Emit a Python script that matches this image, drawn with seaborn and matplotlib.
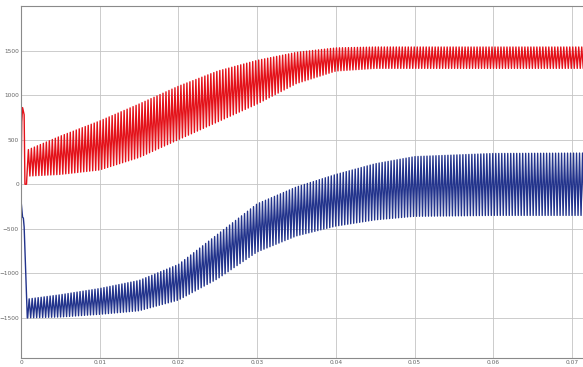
import numpy as np
import pandas as pd
import seaborn as sns
import matplotlib
matplotlib.use("Agg")
import matplotlib.pyplot as plt

# envelope of the two signals (time in s)
env_t = [0.0007, 0.005, 0.01, 0.015, 0.02, 0.025, 0.03, 0.035, 0.04, 0.045, 0.05, 0.06, 0.072]
red_hi = [380, 540, 710, 900, 1100, 1270, 1390, 1480, 1530, 1540, 1540, 1540, 1540]
red_lo = [90, 110, 160, 300, 500, 700, 900, 1130, 1270, 1300, 1300, 1300, 1300]
blue_hi = [-1290, -1240, -1170, -1080, -900, -560, -220, -30, 110, 230, 310, 345, 350]
blue_lo = [-1500, -1490, -1460, -1420, -1300, -1060, -760, -580, -470, -400, -360, -350, -350]

# start-up transient
red_t0 = [0.0, 0.0001, 0.0002, 0.0004, 0.0005, 0.0007]
red_v0 = [0, 700, 860, 780, 0, 0]
blue_t0 = [0.0, 0.0002, 0.0003, 0.0004, 0.0008]
blue_v0 = [-180, -370, -380, -480, -1500]

period = 0.00038

xticks = [0, 0.01, 0.02, 0.03, 0.04, 0.05, 0.06, 0.07]
xlabels = ["0", "0.01", "0.02", "0.03", "0.04", "0.05", "0.06", "0.07"]
yticks = [-1500, -1000, -500, 0, 500, 1000, 1500]


def build(t0, v0, hi, lo, start):
    # zig-zag between the upper and lower envelope every half period
    tt = np.arange(start, 0.0716, period / 2)
    up = np.interp(tt, env_t, hi)
    dn = np.interp(tt, env_t, lo)
    vv = np.where(np.arange(len(tt)) % 2 == 0, dn, up)
    return np.concatenate([t0, tt]), np.concatenate([v0, vv])


rt, rv = build(red_t0, red_v0, red_hi, red_lo, 0.00075)
bt, bv = build(blue_t0, blue_v0, blue_hi, blue_lo, 0.00085)
df_red = pd.DataFrame({"t": rt, "v": rv})
df_blue = pd.DataFrame({"t": bt, "v": bv})

sns.set_style("white")
fig = plt.figure(figsize=(5.83, 3.67), dpi=100)
ax = fig.add_axes([21 / 583, 9 / 367, 1 - 21 / 583, 352 / 367])

sns.lineplot(data=df_red, x="t", y="v", color="#e41119", lw=1.0, sort=False, estimator=None, ax=ax)
sns.lineplot(data=df_blue, x="t", y="v", color="#22338c", lw=1.0, sort=False, estimator=None, ax=ax)

ax.set_xlim(0, 0.0714)
ax.set_ylim(-1950, 2000)
ax.set_xticks(xticks)
ax.set_xticklabels(xlabels)
ax.set_yticks(yticks)
ax.set_xlabel("")
ax.set_ylabel("")
ax.grid(True, color="#c4c4c4", lw=0.6)
ax.set_axisbelow(True)
for s in ["left", "top", "bottom"]:
    ax.spines[s].set_color("#8a8a8a")
    ax.spines[s].set_linewidth(0.8)
ax.spines["right"].set_visible(False)
ax.tick_params(axis="both", direction="in", length=3, width=0.6, color="#555555",
               labelsize=4.2, labelcolor="#666666", pad=1.5)

fig.savefig("out.png", dpi=100)
